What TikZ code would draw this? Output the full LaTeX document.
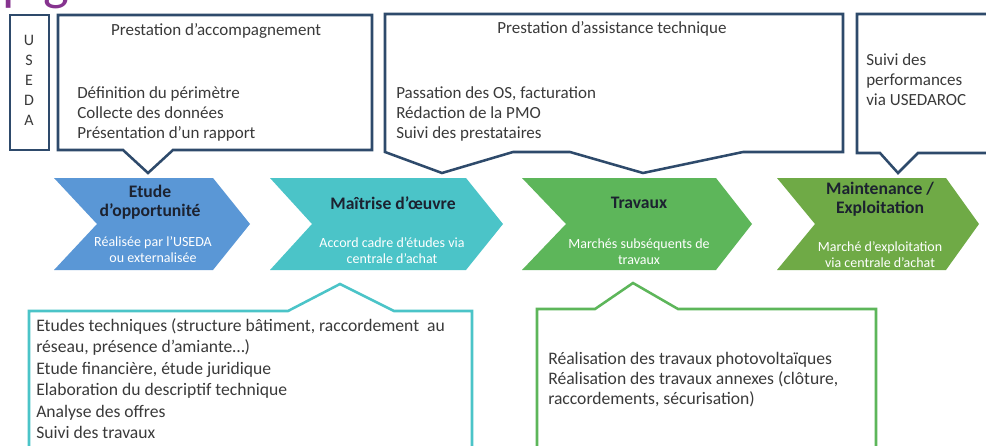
\documentclass[tikz,border=0pt]{standalone}
\usepackage{fontspec}
\setmainfont{Carlito}
\definecolor{navy}{HTML}{2E4A6B}
\definecolor{txtgray}{HTML}{3A3A3A}
\definecolor{titledark}{HTML}{1C2230}
\definecolor{cblue}{HTML}{5A97D6}
\definecolor{cteal}{HTML}{4BC4C8}
\definecolor{cgreen}{HTML}{5DB65A}
\definecolor{colive}{HTML}{6FAA46}
\definecolor{purp}{HTML}{86338F}
\tikzset{
  navybox/.style={draw=navy, line width=1.9pt, fill=white, line join=miter},
  tealbox/.style={draw=cteal, line width=1.9pt, fill=white, line join=miter},
  greenbox/.style={draw=cgreen, line width=1.9pt, fill=white, line join=miter},
  txt/.style={font=\fontsize{12.75}{15}\selectfont, text=txtgray, inner sep=0pt, anchor=mid west},
  txtb/.style={font=\fontsize{13.2}{15}\selectfont, text=txtgray, inner sep=0pt, anchor=mid west},
  boxtitle/.style={font=\fontsize{12.75}{15}\selectfont, text=txtgray, inner sep=0pt, anchor=mid},
  letter/.style={font=\fontsize{12}{14}\selectfont, text=txtgray, inner sep=0pt, anchor=mid},
  chevtitle/.style={font=\bfseries\fontsize{13.2}{14.25}\selectfont, text=titledark, align=center, inner sep=0pt},
  chevsub/.style={font=\fontsize{10.5}{12}\selectfont, text=white, align=center, inner sep=0pt}
}
\begin{document}
\begin{tikzpicture}[x=0.75pt,y=-0.75pt]
\useasboundingbox (0,0) rectangle (986,446);
\clip (0,0) rectangle (986,446);
\fill[white] (0,0) rectangle (986,446);

% cut-off title
\node[font=\fontsize{41}{45}\selectfont, text=purp, inner sep=0pt, anchor=base west] (ttl) at (2,-1) {p g};

% top callouts
\draw[navybox] (10,15) rectangle (49,150);
\node[letter] (u1) at (29,42) {U};
\node[letter] (u2) at (29,62) {S};
\node[letter] (u3) at (29,82) {E};
\node[letter] (u4) at (29,102) {D};
\node[letter] (u5) at (29,122) {A};

\draw[navybox] (58,15) -- (372,15) -- (372,150) -- (173,150) -- (148,173) -- (123,150) -- (58,150) -- cycle;
\node[boxtitle] (b1t) at (216,32) {Prestation d’accompagnement};
\node[txt] (b1a) at (77,95) {Définition du périmètre};
\node[txt] (b1b) at (77,115) {Collecte des données};
\node[txt] (b1c) at (77,135) {Présentation d’un rapport};

\draw[navybox] (385,14) -- (843,14) -- (843,152) -- (743,152) -- (643,173) -- (570,152) -- (513,152) -- (442,173) -- (385,152) -- cycle;
\node[boxtitle] (b2t) at (612,30) {Prestation d’assistance technique};
\node[txt] (b2a) at (396,95) {Passation des OS, facturation};
\node[txt] (b2b) at (396,115) {Rédaction de la PMO};
\node[txt] (b2c) at (396,135) {Suivi des prestataires};

\draw[navybox] (857,14) -- (995,14) -- (995,153) -- (918,153) -- (898,173) -- (880,153) -- (857,153) -- cycle;
\node[txt] (b3a) at (866,62) {Suivi des};
\node[txt] (b3b) at (866,82) {performances};
\node[txt] (b3c) at (866,102) {via USEDAROC};

% chevrons
\fill[cblue] (54,178) -- (213,178) -- (250,224) -- (213,270) -- (54,270) -- (97,224) -- cycle;
\node[chevtitle] (c1t) at (150,202) {Etude\\d’opportunité};
\node[chevsub] (c1s) at (153,250) {Réalisée par l’USEDA\\ou externalisée};

\fill[cteal] (270,178) -- (466,178) -- (503,224) -- (466,270) -- (270,270) -- (312,224) -- cycle;
\node[chevtitle] (c2t) at (393,203) {Maîtrise d’œuvre};
\node[chevsub] (c2s) at (392,251) {Accord cadre d’études via\\centrale d’achat};

\fill[cgreen] (522,178) -- (716,178) -- (752,224) -- (716,270) -- (522,270) -- (566,224) -- cycle;
\node[chevtitle] (c3t) at (639,203) {Travaux};
\node[chevsub] (c3s) at (639,252) {Marchés subséquents de\\travaux};

\fill[colive] (777,178) -- (946,178) -- (979,224) -- (946,270) -- (777,270) -- (815,224) -- cycle;
\node[chevtitle] (c4t) at (880,199) {Maintenance /\\Exploitation};
\node[chevsub] (c4s) at (880,255) {Marché d’exploitation\\via centrale d’achat};

% bottom callouts
\draw[tealbox] (29,311) -- (288,311) -- (340,284) -- (394,311) -- (472,311) -- (472,470) -- (29,470) -- cycle;
\node[txtb] (d1) at (36,328) {Etudes techniques (structure bâtiment, raccordement\ \ au};
\node[txtb] (d2) at (36,349.5) {réseau, présence d’amiante…)};
\node[txtb] (d3) at (36,371) {Etude financière, étude juridique};
\node[txtb] (d4) at (36,392.5) {Elaboration du descriptif technique};
\node[txtb] (d5) at (36,414) {Analyse des offres};
\node[txtb] (d6) at (36,435.5) {Suivi des travaux};

\draw[greenbox] (537,309) -- (595,309) -- (633,283) -- (678,309) -- (876,309) -- (876,470) -- (537,470) -- cycle;
\node[txtb] (e1) at (548,361) {Réalisation des travaux photovoltaïques};
\node[txtb] (e2) at (548,381) {Réalisation des travaux annexes (clôture,};
\node[txtb] (e3) at (548,401) {raccordements, sécurisation)};
\end{tikzpicture}
\end{document}
